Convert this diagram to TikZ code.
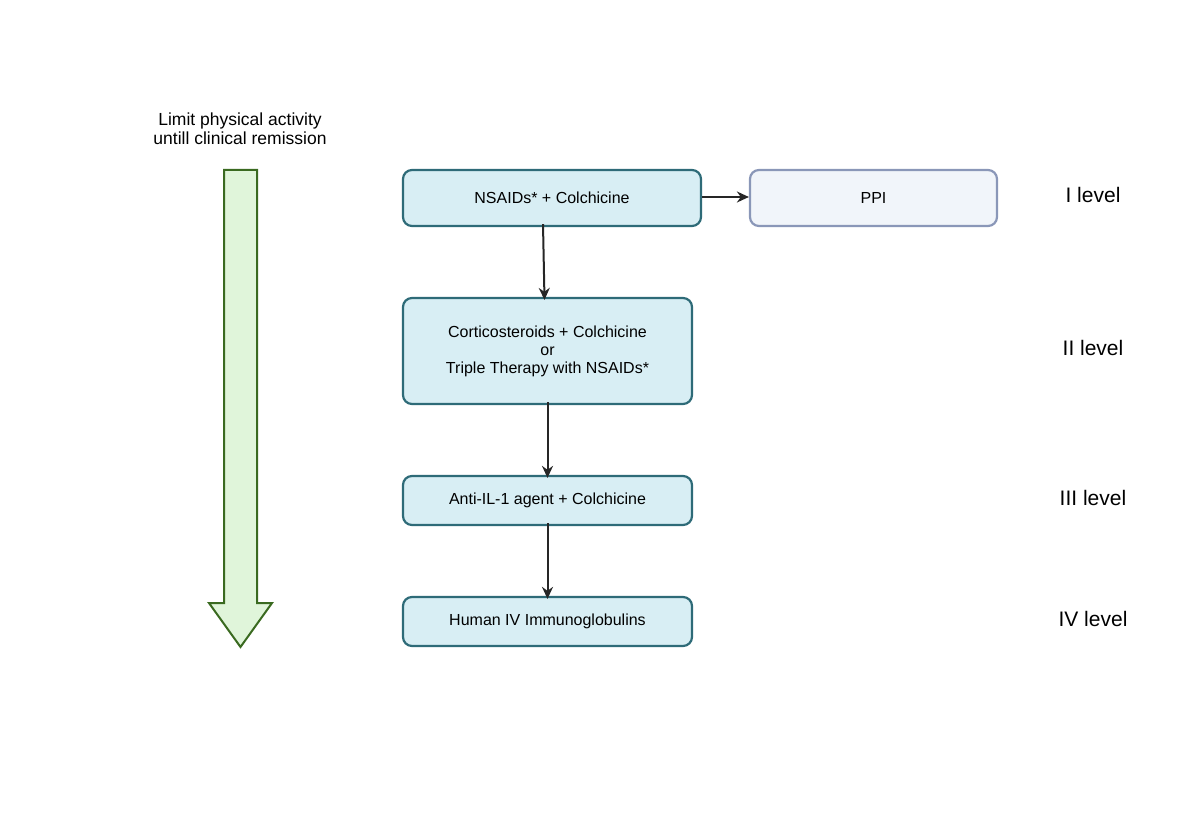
\documentclass[tikz,border=0pt]{standalone}
\usepackage{fontspec}
\setmainfont{Liberation Sans}
\usetikzlibrary{arrows.meta}
\definecolor{boxfill}{HTML}{D8EEF4}
\definecolor{boxline}{HTML}{2E6B78}
\definecolor{ppifill}{HTML}{F1F5FA}
\definecolor{ppiline}{HTML}{8A97B8}
\definecolor{arrfill}{HTML}{E0F5DA}
\definecolor{arrline}{HTML}{3A6A20}
\begin{document}
\begin{tikzpicture}[x=1pt,y=-1pt,
  box/.style={draw=boxline,fill=boxfill,line width=2.2pt,rounded corners=9pt,align=center,font=\fontsize{16}{18}\selectfont,inner sep=0pt},
  lvl/.style={font=\fontsize{21}{24}\selectfont},
  conn/.style={-{Stealth[length=12pt,width=11pt]},line width=2pt,color=black!85}]
\useasboundingbox (0,0) rectangle (1200,840);
\node[box,minimum width=298pt,minimum height=56pt] (n1) at (552,198) {NSAIDs* + Colchicine};
\node[box,draw=ppiline,fill=ppifill,minimum width=247pt,minimum height=56pt] (ppi) at (873.5,198) {PPI};
\node[box,minimum width=289pt,minimum height=106pt] (n2) at (547.5,351) {Corticosteroids + Colchicine\\or\\Triple Therapy with NSAIDs*};
\node[box,minimum width=289pt,minimum height=49pt] (n3) at (547.5,500.5) {Anti-IL-1 agent + Colchicine};
\node[box,minimum width=289pt,minimum height=49pt] (n4) at (547.5,621.5) {Human IV Immunoglobulins};
\node[lvl] (l1) at (1093,195) {I level};
\node[lvl] (l2) at (1093,348) {II level};
\node[lvl] (l3) at (1093,498) {III level};
\node[lvl] (l4) at (1093,619) {IV level};
\node[align=center,font=\fontsize{17.5}{19}\selectfont] (t) at (240,129) {Limit physical activity\\untill clinical remission};
\draw[conn] ([yshift=1pt]n1.east) -- ([yshift=1pt]ppi.west);
\draw[conn] ([xshift=-9pt,yshift=3pt]n1.south) -- ([xshift=-3pt,yshift=-3pt]n2.north);
\draw[conn] ([yshift=3pt]n2.south) -- ([yshift=-3pt]n3.north);
\draw[conn] ([yshift=3pt]n3.south) -- ([yshift=-3pt]n4.north);
\draw[draw=arrline,fill=arrfill,line width=2pt,line join=miter]
 (224,170) -- (257,170) -- (257,603) -- (272,603) -- (240.5,647) -- (209,603) -- (224,603) -- cycle;
\end{tikzpicture}
\end{document}
